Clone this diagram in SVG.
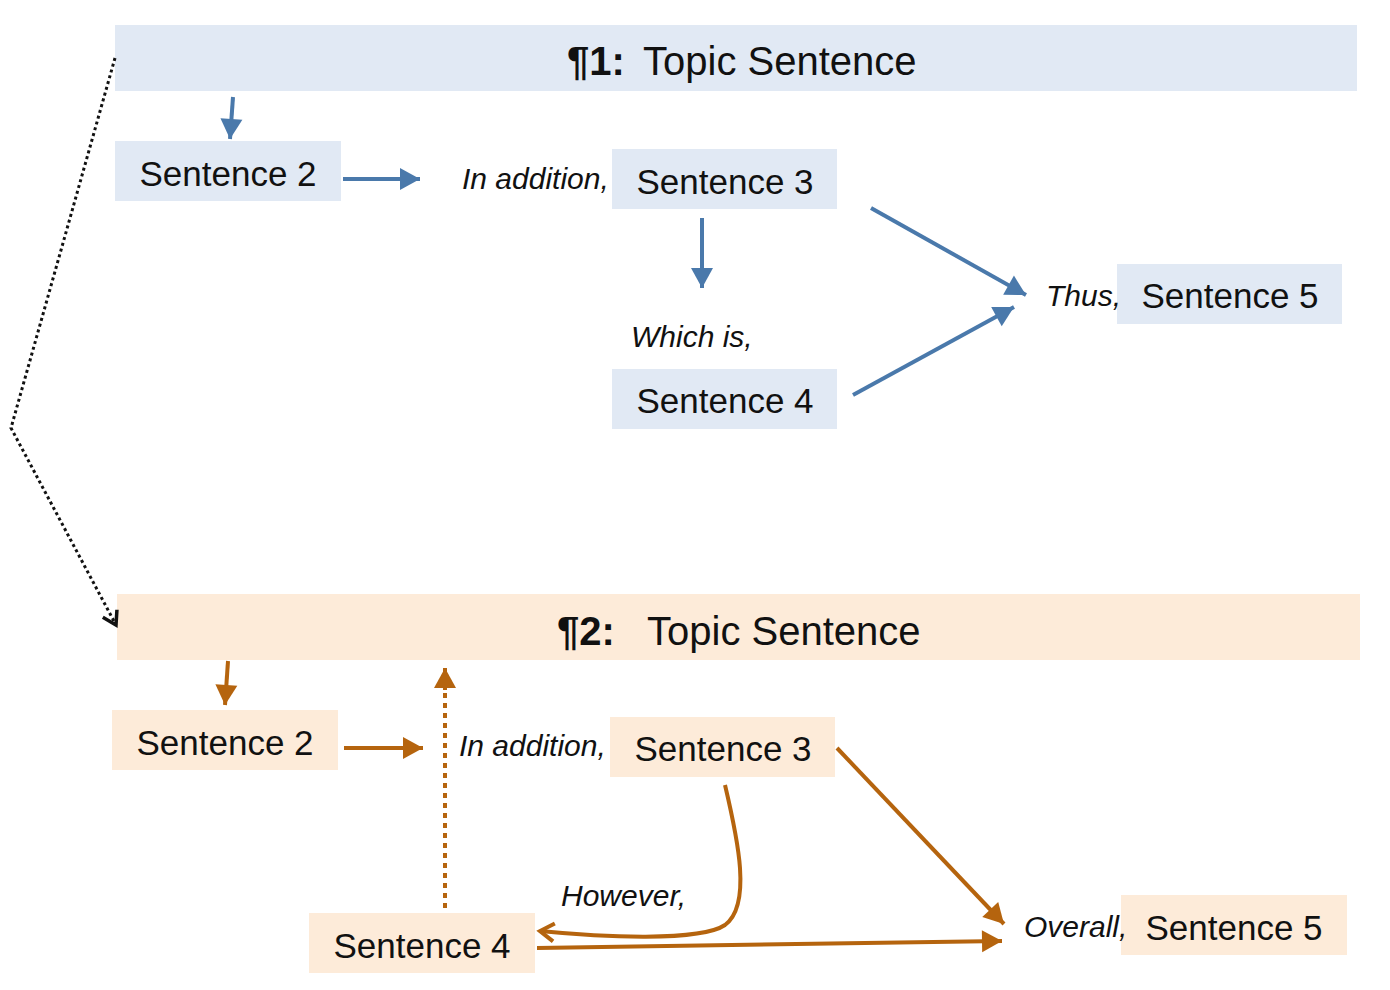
<svg xmlns="http://www.w3.org/2000/svg" width="1390" height="990" viewBox="0 0 1390 990">
<style>
.blue{fill:#e1e9f4}
.peach{fill:#fdebd9}
.lbl{font-family:"Liberation Sans",Arial,sans-serif;font-size:35px;fill:#111}
.ttl{font-family:"Liberation Sans",Arial,sans-serif;font-size:40px;fill:#111}
.it{font-family:"Liberation Sans",Arial,sans-serif;font-size:30px;font-style:italic;fill:#111}
.bl{stroke:#4a79ab;stroke-width:4;fill:none}
.br{stroke:#b5640e;stroke-width:4;fill:none}
</style>
<defs>
<marker id="ab" markerUnits="userSpaceOnUse" markerWidth="26" markerHeight="26" viewBox="0 0 26 26" refX="22" refY="13" orient="auto"><path d="M2,2 L22,13 L2,24 Z" fill="#4a79ab"/></marker>
<marker id="ar" markerUnits="userSpaceOnUse" markerWidth="26" markerHeight="26" viewBox="0 0 26 26" refX="22" refY="13" orient="auto"><path d="M2,2 L22,13 L2,24 Z" fill="#b5640e"/></marker>
<marker id="aro" markerUnits="userSpaceOnUse" markerWidth="24" markerHeight="24" viewBox="0 0 24 24" refX="20" refY="12" orient="auto"><path d="M6,3 L20,12 L6,21" fill="none" stroke="#b5640e" stroke-width="4"/></marker>
<marker id="ak" markerUnits="userSpaceOnUse" markerWidth="24" markerHeight="24" viewBox="0 0 24 24" refX="20" refY="12" orient="auto"><path d="M7,4 L20,12 L7,20" fill="none" stroke="#111" stroke-width="3.5"/></marker>
</defs>

<g id="p1-topic"><rect class="blue" x="115" y="25" width="1242" height="66"/><text class="ttl" y="75"><tspan x="567" font-weight="bold">¶1:</tspan><tspan x="643">Topic Sentence</tspan></text></g>
<g id="p1-s2"><rect class="blue" x="115" y="141" width="226" height="60"/><text class="lbl" x="228" y="186" text-anchor="middle">Sentence 2</text></g>
<g id="p1-s3"><rect class="blue" x="612" y="149" width="225" height="60"/><text class="it" x="462" y="189">In addition,</text><text class="lbl" x="725" y="194" text-anchor="middle">Sentence 3</text></g>
<g id="p1-s4"><text class="it" x="631" y="347">Which is,</text><rect class="blue" x="612" y="369" width="225" height="60"/><text class="lbl" x="725" y="413" text-anchor="middle">Sentence 4</text></g>
<g id="p1-s5"><rect class="blue" x="1117" y="264" width="225" height="60"/><text class="it" x="1046" y="306">Thus,</text><text class="lbl" x="1230" y="308" text-anchor="middle">Sentence 5</text></g>

<g id="p2-topic"><rect class="peach" x="117" y="594" width="1243" height="66"/><text class="ttl" y="645"><tspan x="557" font-weight="bold">¶2:</tspan><tspan x="647">Topic Sentence</tspan></text></g>
<g id="p2-s2"><rect class="peach" x="112" y="710" width="226" height="60"/><text class="lbl" x="225" y="755" text-anchor="middle">Sentence 2</text></g>
<g id="p2-s3"><rect class="peach" x="610" y="717" width="225" height="60"/><text class="it" x="459" y="756">In addition,</text><text class="lbl" x="723" y="761" text-anchor="middle">Sentence 3</text></g>
<g id="p2-s4"><text class="it" x="561" y="906">However,</text><rect class="peach" x="309" y="913" width="226" height="60"/><text class="lbl" x="422" y="958" text-anchor="middle">Sentence 4</text></g>
<g id="p2-s5"><rect class="peach" x="1121" y="895" width="226" height="60"/><text class="it" x="1024" y="937" font-size="29">Overall,</text><text class="lbl" x="1234" y="940" text-anchor="middle">Sentence 5</text></g>

<g id="connectors">
<path class="bl" d="M233,97 L230,139" marker-end="url(#ab)"/>
<path class="bl" d="M343,179 L420,179" marker-end="url(#ab)"/>
<path class="bl" d="M702,218 L702,288" marker-end="url(#ab)"/>
<path class="bl" d="M871,208 L1026,295" marker-end="url(#ab)"/>
<path class="bl" d="M853,395 L1014,307" marker-end="url(#ab)"/>
<path d="M115,58 L11,428 L116,625" fill="none" stroke="#111" stroke-width="3" stroke-dasharray="3,3" marker-end="url(#ak)"/>
<path class="br" d="M228,661 L225,705" marker-end="url(#ar)"/>
<path class="br" d="M344,748 L423,748" marker-end="url(#ar)"/>
<path class="br" d="M445,908 L445,688" stroke-dasharray="5,5"/>
<path class="br" d="M445,690 L445,668" stroke-width="0" marker-end="url(#ar)"/>
<path class="br" d="M837,748 L1004,924" marker-end="url(#ar)"/>
<path class="br" d="M725,785 C738,840 752,905 725,925 C700,942 600,937 540,931" marker-end="url(#aro)"/>
<path class="br" d="M537,948 L1002,941" marker-end="url(#ar)"/>
</g>
</svg>
